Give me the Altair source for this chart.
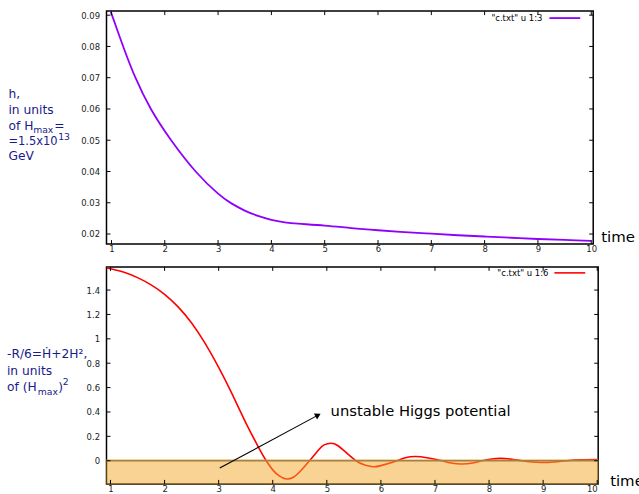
import altair as alt
import pandas as pd

# ---------------- data ----------------
t_h = [0.91, 1.0, 1.22, 1.45, 1.74, 2.12, 2.58, 3.0, 3.25, 3.5, 3.75, 4.0, 4.25,
       4.5, 5.0, 5.5, 6.0, 6.5, 7.0, 7.5, 8.0, 8.5, 9.0, 9.5, 10.0]
h_vals = [0.0948, 0.0905, 0.080, 0.070, 0.060, 0.050, 0.040, 0.0329, 0.0298, 0.0275,
          0.0258, 0.02455, 0.02375, 0.0233, 0.0227, 0.0219, 0.0212, 0.0206, 0.0201, 0.0196,
          0.0192, 0.0188, 0.0184, 0.0181, 0.0178]

t_r = [0.926, 1.0, 1.25, 1.5, 1.75, 2.0, 2.25, 2.5, 2.75, 3.0, 3.25, 3.5, 3.75, 3.88,
       4.0, 4.12, 4.25, 4.38, 4.5, 4.68, 4.85, 4.95, 5.08, 5.2, 5.35, 5.54, 5.7, 5.85,
       6.0, 6.3, 6.45, 6.64, 6.85, 7.13, 7.3, 7.5, 7.7, 7.87, 8.05, 8.21, 8.4, 8.6,
       8.8, 8.97, 9.2, 9.43, 9.7, 10.0]
r_vals = [1.584, 1.575, 1.546, 1.502, 1.443, 1.365, 1.262, 1.13, 0.962, 0.765, 0.546, 0.313, 0.10,
          0.0, -0.075, -0.125, -0.15, -0.135, -0.09, 0.0, 0.09, 0.13, 0.144, 0.125, 0.07,
          0.0, -0.035, -0.049, -0.04, 0.0, 0.025, 0.035, 0.025, 0.0, -0.019, -0.027, -0.018,
          0.0, 0.014, 0.019, 0.013, 0.0, -0.011, -0.015, -0.01, 0.0, 0.008, 0.01]

x_ticks = [1, 2, 3, 4, 5, 6, 7, 8, 9, 10]
h_ticks = [0.02, 0.03, 0.04, 0.05, 0.06, 0.07, 0.08, 0.09]
r_ticks = [0, 0.2, 0.4, 0.6, 0.8, 1.0, 1.2, 1.4]

band_low, band_high = -0.19, 0.01
arrow_from = (3.02, -0.06)
arrow_to = (4.838, 0.374)
note_pos = (5.07, 0.40)

FONT = "DejaVu Sans"
NAVY = "#1a1a8a"
PURPLE = "#8f00ff"
RED = "#ff0000"
TICKC = "#222222"

W1, H1 = 489, 234
W2, H2 = 494, 218
OX, OY1, OY2 = 106, 8, 265

xs1 = alt.Scale(domain=[0.907, 10.037], nice=False, zero=False)
ys1 = alt.Scale(domain=[0.0168, 0.0913], nice=False, zero=False)
xs2 = alt.Scale(domain=[0.926, 10.018], nice=False, zero=False)
ys2 = alt.Scale(domain=[-0.19, 1.59], nice=False, zero=False)

one = pd.DataFrame({"_": [0]})


def xaxis():
    return alt.Axis(values=x_ticks, format="d", title=None, ticks=False, domain=False,
                    grid=False, labelFont=FONT, labelFontSize=8.5, labelColor=TICKC,
                    labelPadding=1)


def yaxis(vals, fmt):
    return alt.Axis(values=vals, format=fmt, title=None, ticks=False, domain=False,
                    grid=False, labelFont=FONT, labelFontSize=8.5, labelColor=TICKC,
                    labelPadding=7)


def txt(text, ax, ay, size, oy, color=NAVY, align="left", baseline="alphabetic"):
    return alt.Chart(one).mark_text(
        text=text, font=FONT, fontSize=size, color=color, align=align, baseline=baseline
    ).encode(x=alt.value(ax - OX), y=alt.value(ay - oy))


def seg(x1, x2, y, oy, color, width=1.6):
    return alt.Chart(one).mark_rule(color=color, strokeWidth=width).encode(
        x=alt.value(x1 - OX), x2=alt.value(x2 - OX), y=alt.value(y - oy))


def ticks(xs, ys, ytick_vals, fmt, W, H):
    dx = pd.DataFrame({"t": x_ticks})
    dy = pd.DataFrame({"v": ytick_vals})
    L = 4
    xb = alt.Chart(dx).mark_rule(color="#000", strokeWidth=1).encode(
        x=alt.X("t:Q", scale=xs, axis=xaxis()), y=alt.value(H), y2=alt.value(H - L))
    xt = alt.Chart(dx).mark_rule(color="#000", strokeWidth=1).encode(
        x=alt.X("t:Q", scale=xs, axis=xaxis()), y=alt.value(0), y2=alt.value(L))
    yl = alt.Chart(dy).mark_rule(color="#000", strokeWidth=1).encode(
        y=alt.Y("v:Q", scale=ys, axis=yaxis(ytick_vals, fmt)), x=alt.value(0), x2=alt.value(L))
    yr = alt.Chart(dy).mark_rule(color="#000", strokeWidth=1).encode(
        y=alt.Y("v:Q", scale=ys, axis=yaxis(ytick_vals, fmt)), x=alt.value(W), x2=alt.value(W - L))
    return [xb, xt, yl, yr]


# ---------------- top panel ----------------
dh = pd.DataFrame({"t": t_h, "h": h_vals})
top_line = alt.Chart(dh).mark_line(color=PURPLE, strokeWidth=1.8, clip=True,
                                   interpolate="natural").encode(
    x=alt.X("t:Q", scale=xs1, axis=xaxis()),
    y=alt.Y("h:Q", scale=ys1, axis=yaxis(h_ticks, ".2f")),
)
top_layers = [top_line] + ticks(xs1, ys1, h_ticks, ".2f", W1, H1) + [
    txt('"c.txt" u 1:3', 544, 15, 8.5, OY1, color="#000", align="right", baseline="middle"),
    seg(551, 582, 15, OY1, PURPLE, 1.8),
    txt("h,", 7.5, 95, 12.3, OY1),
    txt("in units", 7.5, 111, 12.3, OY1),
    txt("of H", 7.5, 127, 12.3, OY1),
    txt("max", 32.3, 130.5, 9.3, OY1),
    txt("=", 53.5, 127, 12.3, OY1),
    txt("=1.5x10", 7.5, 142.5, 11.5, OY1),
    txt("13", 57.5, 137.5, 9.3, OY1),
    txt("GeV", 7.5, 158, 12.3, OY1),
    txt("time", 603, 239.5, 15, OY1, color="#000"),
]
top = alt.layer(*top_layers).properties(width=W1, height=H1)

# ---------------- bottom panel ----------------
dr = pd.DataFrame({"t": t_r, "r": r_vals})
XA2 = xaxis()
YA2 = yaxis(r_ticks, "~g")
bottom_line = alt.Chart(dr).mark_line(color=RED, strokeWidth=1.6, clip=True,
                                      interpolate="natural").encode(
    x=alt.X("t:Q", scale=xs2, axis=XA2),
    y=alt.Y("r:Q", scale=ys2, axis=YA2),
)
zero_line = alt.Chart(pd.DataFrame({"v": [0.0]})).mark_rule(color="#5a5a5a", strokeWidth=1.4).encode(
    y=alt.Y("v:Q", scale=ys2, axis=YA2), x=alt.value(0), x2=alt.value(W2))
band = alt.Chart(pd.DataFrame({"lo": [band_low], "hi": [band_high]})).mark_rect(
    color="#f4a829", opacity=0.5, stroke="#d99a2b", strokeWidth=1, strokeOpacity=0.7).encode(
    y=alt.Y("hi:Q", scale=ys2, axis=YA2), y2="lo:Q", x=alt.value(0), x2=alt.value(W2))
arrow_df = pd.DataFrame({"t": [arrow_from[0]], "v": [arrow_from[1]],
                         "t2": [arrow_to[0]], "v2": [arrow_to[1]]})
arrow_line = alt.Chart(arrow_df).mark_rule(color="#000", strokeWidth=1.1).encode(
    x=alt.X("t:Q", scale=xs2, axis=XA2), y=alt.Y("v:Q", scale=ys2, axis=YA2),
    x2="t2:Q", y2="v2:Q")
arrow_head = alt.Chart(pd.DataFrame({"t": [arrow_to[0]], "v": [arrow_to[1]]})).mark_point(
    shape="triangle-up", filled=True, color="#000", size=45, angle=61.6, opacity=1).encode(
    x=alt.X("t:Q", scale=xs2, axis=XA2), y=alt.Y("v:Q", scale=ys2, axis=YA2))
note = alt.Chart(pd.DataFrame({"t": [note_pos[0]], "v": [note_pos[1]],
                               "s": ["unstable Higgs potential"]})).mark_text(
    font=FONT, fontSize=14.8, color="#000", align="left", baseline="middle").encode(
    x=alt.X("t:Q", scale=xs2, axis=XA2), y=alt.Y("v:Q", scale=ys2, axis=YA2), text="s:N")

bottom_layers = [bottom_line, zero_line, band, arrow_line, arrow_head, note] + \
    ticks(xs2, ys2, r_ticks, "~g", W2, H2) + [
    txt('"c.txt" u 1:6', 550, 271, 8.5, OY2, color="#000", align="right", baseline="middle"),
    seg(556, 587, 271, OY2, RED, 1.6),
    txt("-R/6=Ḣ+2H²,", 6, 357, 12.3, OY2),
    txt("in units", 6, 374, 12.3, OY2),
    txt("of (H", 6, 390, 12.3, OY2),
    txt("max", 37, 393.5, 9.3, OY2),
    txt(")", 57.5, 390, 12.3, OY2),
    txt("2", 62, 384, 9.3, OY2),
    txt("time", 612, 485, 15, OY2, color="#000"),
]
bottom = alt.layer(*bottom_layers).properties(width=W2, height=H2)

chart = alt.vconcat(top, bottom, spacing=OY2 - OY1 - H1, bounds="flush").properties(
    padding={"left": 6, "top": 8, "right": -6, "bottom": 0},
    background="white",
).configure_view(stroke="#000", strokeWidth=1.5)

chart.save("out.html", embed_options={"renderer": "svg", "actions": False})
